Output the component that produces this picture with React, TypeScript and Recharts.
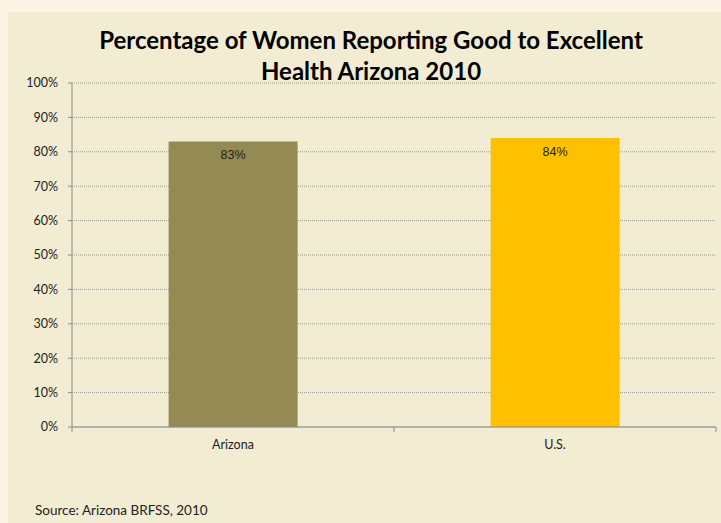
import { BarChart, Bar, XAxis, YAxis, CartesianGrid, LabelList, Cell } from 'recharts';

const categories = ['Arizona', 'U.S.'];
const values = [83, 84];
const barColors = ['#948a54', '#ffc000'];
const yTicks = [0, 10, 20, 30, 40, 50, 60, 70, 80, 90, 100];

const data = categories.map((name, i) => ({ name, value: values[i] }));

const FONT = 'Lato, "Open Sans", sans-serif';

function CategoryTick(props: any) {
  const { x, y, payload, index } = props;
  const off = payload.offset || 0;
  return (
    <g>
      {index === 0 && <line x1={x - off} x2={x - off} y1={y} y2={y + 5} stroke="#8c8c8c" />}
      <line x1={x + off} x2={x + off} y1={y} y2={y + 5} stroke="#8c8c8c" />
      <text x={x} y={y + 22} textAnchor="middle" fontSize={12.5} fill="#222" fontFamily={FONT}>
        {payload.value}
      </text>
    </g>
  );
}

export default function App() {
  return (
    <div style={{ position: 'absolute', left: 0, top: 0, width: 721, height: 523, background: '#fcf5e5', overflow: 'hidden' }}>
      <div style={{ position: 'absolute', left: 8, top: 12, width: 713, height: 511, background: '#f2ecd2' }} />
      <div
        style={{
          position: 'absolute',
          left: 0,
          top: 24,
          width: 742,
          textAlign: 'center',
          fontFamily: FONT,
          fontWeight: 700,
          fontSize: 24,
          lineHeight: '31px',
          color: '#000',
        }}
      >
        Percentage of Women Reporting Good to Excellent
        <br />
        Health Arizona 2010
      </div>
      <div style={{ position: 'absolute', left: 0, top: 0 }}>
        <BarChart
          width={721}
          height={523}
          data={data}
          margin={{ top: 83, right: 5, left: 12, bottom: 66 }}
          barCategoryGap="30%"
        >
          <CartesianGrid vertical={false} stroke="#9a9a9a" strokeDasharray="1 1" />
          <YAxis
            domain={[0, 100]}
            ticks={yTicks}
            width={60}
            tickSize={4}
            tickMargin={10}
            interval={0}
            tickFormatter={(v) => `${v}%`}
            tick={{ fontSize: 12.5, fill: '#222', fontFamily: FONT }}
            stroke="#8c8c8c"
            tickLine={{ stroke: '#8c8c8c' }}
            axisLine={{ stroke: '#8c8c8c' }}
          />
          <XAxis
            dataKey="name"
            height={30}
            tickSize={0}
            tickMargin={0}
            tickLine={false}
            axisLine={{ stroke: '#8c8c8c' }}
            tick={<CategoryTick />}
          />
          <Bar dataKey="value" isAnimationActive={false}>
            {data.map((d, i) => (
              <Cell key={d.name} fill={barColors[i]} />
            ))}
            <LabelList
              dataKey="value"
              position="insideTop"
              offset={9}
              formatter={(v: any) => `${v}%`}
              style={{ fontSize: 12.5, fill: '#222', fontFamily: '"Liberation Sans", Arial, sans-serif' }}
            />
          </Bar>
        </BarChart>
      </div>
      <div
        style={{
          position: 'absolute',
          left: 35,
          top: 502,
          fontFamily: FONT,
          fontSize: 13.5,
          color: '#222',
        }}
      >
        Source: Arizona BRFSS, 2010
      </div>
    </div>
  );
}
